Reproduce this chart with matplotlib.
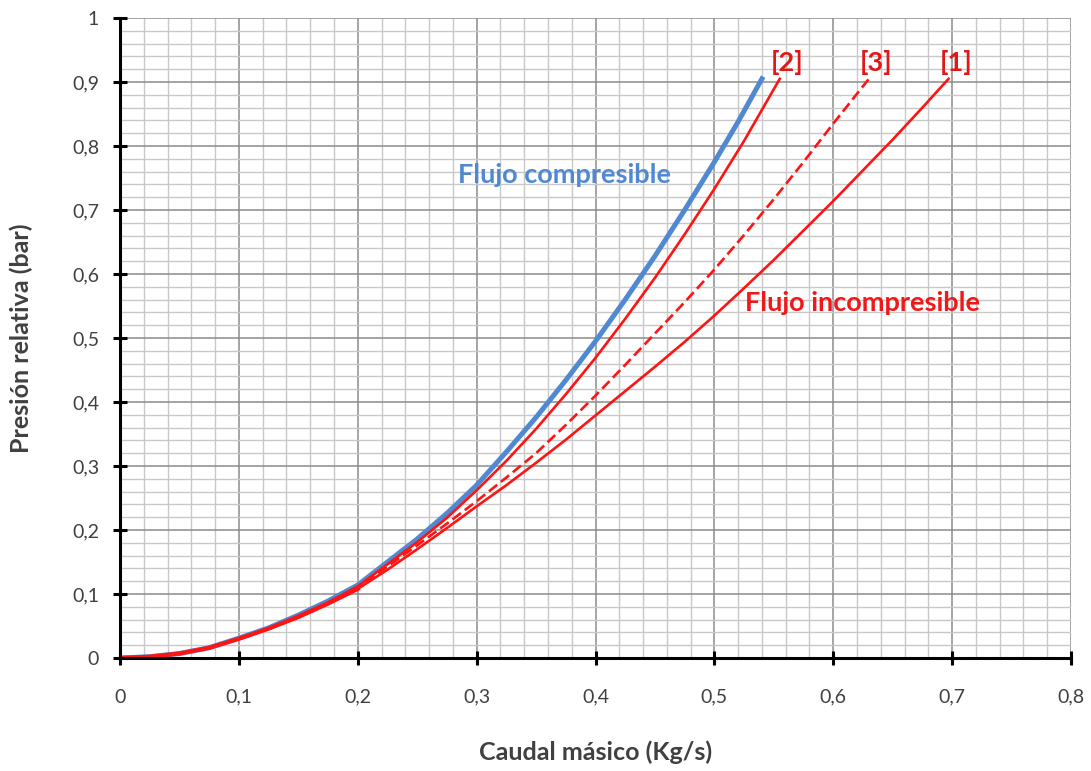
import matplotlib
matplotlib.use("Agg")
import matplotlib.pyplot as plt
from matplotlib.ticker import MultipleLocator, FuncFormatter

# ---- data ----
x_low = [0, 0.025, 0.05, 0.075, 0.1, 0.125, 0.15, 0.175, 0.2]

x_comp = x_low + [0.25, 0.275, 0.3, 0.325, 0.35, 0.375, 0.4, 0.425, 0.45, 0.475, 0.5, 0.52, 0.54]
y_comp = [0, 0.002, 0.007, 0.016, 0.031, 0.047, 0.067, 0.089, 0.114,
          0.186, 0.226, 0.270, 0.322, 0.376, 0.434, 0.495, 0.560, 0.628, 0.700, 0.775, 0.838, 0.905]

x_inc2 = x_low + [0.25, 0.275, 0.3, 0.325, 0.35, 0.375, 0.4, 0.425, 0.45, 0.475, 0.5, 0.525, 0.555]
y_inc2 = [0, 0.002, 0.007, 0.016, 0.030, 0.046, 0.066, 0.087, 0.112,
          0.181, 0.219, 0.262, 0.308, 0.358, 0.412, 0.469, 0.530, 0.594, 0.662, 0.733, 0.808, 0.905]

x_inc3 = x_low + [0.25, 0.275, 0.3, 0.325, 0.35, 0.375, 0.4, 0.425, 0.45, 0.475, 0.5, 0.525, 0.55, 0.575, 0.6, 0.63]
y_inc3 = [0, 0.002, 0.007, 0.016, 0.030, 0.046, 0.065, 0.086, 0.110,
          0.176, 0.210, 0.245, 0.282, 0.320, 0.364, 0.410, 0.458, 0.507, 0.556, 0.607, 0.661, 0.717, 0.775, 0.835, 0.905]

x_inc1 = x_low + [0.225, 0.25, 0.275, 0.3, 0.325, 0.35, 0.375, 0.4, 0.425, 0.45, 0.475, 0.5, 0.525,
                  0.55, 0.575, 0.6, 0.625, 0.65, 0.675, 0.697]
y_inc1 = [0, 0.002, 0.007, 0.016, 0.030, 0.046, 0.064, 0.085, 0.108,
          0.138, 0.170, 0.203, 0.237, 0.270, 0.305, 0.341, 0.379, 0.417, 0.455, 0.494, 0.535, 0.578,
          0.622, 0.668, 0.714, 0.762, 0.810, 0.860, 0.905]

x_ticks = [0, 0.1, 0.2, 0.3, 0.4, 0.5, 0.6, 0.7, 0.8]
y_ticks = [0, 0.1, 0.2, 0.3, 0.4, 0.5, 0.6, 0.7, 0.8, 0.9, 1.0]

label_comp = "Flujo compresible"
label_inc = "Flujo incompresible"
curve_tags = ["[2]", "[3]", "[1]"]

# ---- figure ----
plt.rcParams['font.family'] = ['Lato', 'DejaVu Sans']
fig = plt.figure(figsize=(10.91, 7.71), dpi=100)
ax = fig.add_axes([120/1091, 113/771, 951/1091, 640/771])

BLUE = '#5089D2'
RED = '#FF1414'
TXT = '#404040'

ax.set_xlim(0, 0.8)
ax.set_ylim(0, 1.0)
ax.set_xticks(x_ticks)
ax.set_yticks(y_ticks)
ax.xaxis.set_minor_locator(MultipleLocator(0.02))
ax.yaxis.set_minor_locator(MultipleLocator(0.02))

fmt = FuncFormatter(lambda v, p: ('%g' % round(v, 2)).replace('.', ','))
ax.xaxis.set_major_formatter(fmt)
ax.yaxis.set_major_formatter(fmt)

ax.grid(which='major', color='#8c8c8c', lw=1.1, zorder=0)
ax.grid(which='minor', color='#c8c8c8', lw=1.0, zorder=0)
ax.set_axisbelow(True)

for s in ['top', 'right']:
    ax.spines[s].set_visible(False)
for s in ['left', 'bottom']:
    ax.spines[s].set_linewidth(2.2)
    ax.spines[s].set_color('black')
    ax.spines[s].set_zorder(5)

ax.tick_params(which='major', direction='inout', length=10, width=2.2,
               color='black', labelsize=14, labelcolor=TXT)
ax.tick_params(axis='y', which='major', pad=10)
ax.tick_params(axis='x', which='major', pad=17)
ax.tick_params(which='minor', length=0)

kw = dict(solid_joinstyle='round', dash_joinstyle='round')
ax.plot(x_inc1, y_inc1, color=RED, lw=1.9, zorder=3, **kw)
ax.plot(x_inc3, y_inc3, color=RED, lw=1.9, ls=(0, (4, 1.8)), zorder=3, **kw)
ax.plot(x_inc2, y_inc2, color=RED, lw=1.9, zorder=3, **kw)
ax.plot(x_comp, y_comp, color=BLUE, lw=3.6, zorder=2, **kw)
# red curves overlap on top near origin
ax.plot(x_inc1[:9], y_inc1[:9], color=RED, lw=3.0, zorder=4, **kw)

ax.text(0.284, 0.755, label_comp, color=BLUE, fontsize=19.5, fontweight='bold',
        ha='left', va='center')
ax.text(0.526, 0.555, label_inc, color='#F01818', fontsize=19.5, fontweight='bold',
        ha='left', va='center')
tag_x = [x_inc2[-1], x_inc3[-1], x_inc1[-1]]
for t, xx in zip(curve_tags, tag_x):
    ax.text(xx + 0.006, 0.93, t, color='#E01818', fontsize=19.5, fontweight='bold',
            ha='center', va='center')

ax.set_xlabel("Caudal másico (Kg/s)", fontsize=18, fontweight='bold', color=TXT, labelpad=25)
ax.set_ylabel("Presión relativa (bar)", fontsize=18, fontweight='bold', color=TXT, labelpad=28)

fig.savefig("out.png", dpi=100, facecolor='white')
